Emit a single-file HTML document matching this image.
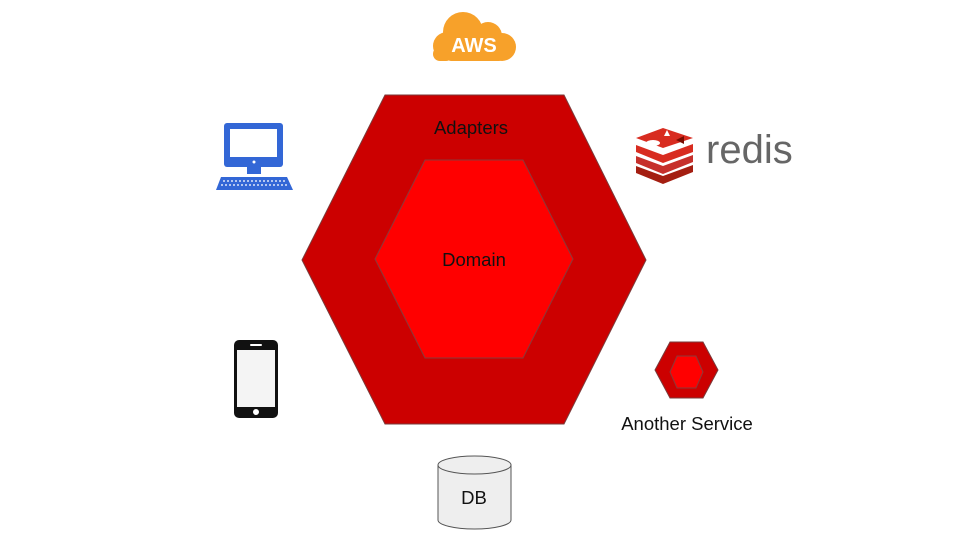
<!DOCTYPE html>
<html><head><meta charset="utf-8"><style>
html,body{margin:0;padding:0;background:#fff;}
svg{display:block;}
text{font-family:"Liberation Sans",Arial,sans-serif;}
</style></head><body>
<svg width="960" height="540" viewBox="0 0 960 540" xmlns="http://www.w3.org/2000/svg">
<rect width="960" height="540" fill="#fff"/>
<!-- AWS cloud -->
<g fill="#f7a12a">
<circle cx="463" cy="32" r="20"/>
<circle cx="488" cy="36" r="14"/>
<circle cx="447" cy="46" r="14"/>
<circle cx="502" cy="47" r="14"/>
<rect x="447" y="36" width="56" height="25" rx="4"/>
<rect x="433" y="47" width="20" height="14" rx="7"/>
</g>
<text x="474" y="52" font-size="20" fill="#fff" text-anchor="middle" font-weight="bold">AWS</text>
<!-- hexagons -->
<polygon points="302,260 385,95 564,95 646,260 564,424 385,424" fill="#cc0000" stroke="#7a3a3a" stroke-width="1"/>
<polygon points="375,259 425,160 523,160 573,259 523,358 425,358" fill="#ff0000" stroke="#8a3a3a" stroke-width="1"/>
<text x="471" y="134" font-size="18.5" fill="#111" text-anchor="middle">Adapters</text>
<text x="474" y="266" font-size="18.5" fill="#111" text-anchor="middle">Domain</text>
<!-- computer -->
<rect x="224" y="123" width="59" height="44" rx="3" fill="#3367d6"/>
<rect x="230" y="129" width="47" height="28" fill="#fff"/>
<circle cx="254" cy="162" r="1.5" fill="#fff"/>
<rect x="247" y="167" width="14" height="7" fill="#3367d6"/>
<polygon points="221,177 287,177 293,190 216,190" fill="#3367d6"/>
<g stroke="#fff" stroke-width="1.2" stroke-dasharray="2 2"><line x1="223" y1="181" x2="286" y2="181"/><line x1="221" y1="185" x2="288" y2="185"/></g>
<!-- phone -->
<rect x="234" y="340" width="44" height="78" rx="5" fill="#111"/>
<rect x="237" y="350" width="38" height="57" fill="#f4f4f4"/>
<rect x="250" y="344" width="12" height="2" rx="1" fill="#fff"/>
<circle cx="256" cy="412" r="3" fill="#fff"/>
<!-- redis -->
<g>
<polygon points="636,166 663,176 693,165 693,172 663,184 636,173" fill="#a41e11"/>
<polygon points="636,156 663,166 693,155 693,162 663,174 636,163" fill="#c6302b"/>
<polygon points="636,145 663,155 693,144 693,152 663,163 636,152" fill="#d82c20"/>
<polygon points="636,138 663,128 693,138 663,148" fill="#d82c20"/>
<ellipse cx="653" cy="143" rx="7" ry="3" fill="#fff"/>
<polygon points="664,136 667,130 670,136" fill="#fff"/>
<polygon points="676,140 684,136 684,144" fill="#7a0c00"/>
</g>
<text x="706" y="163" font-size="40" fill="#666">redis</text>
<!-- another service -->
<polygon points="655,370 670,342 703,342 718,370 703,398 670,398" fill="#cc0000" stroke="#7a3a3a"/>
<polygon points="670,372 677,356 696,356 703,372 696,388 677,388" fill="#ff0000" stroke="#8a3a3a"/>
<text x="687" y="430" font-size="18.5" fill="#111" text-anchor="middle">Another Service</text>
<!-- DB -->
<path d="M438,465 L438,520 A36.5,9 0 0 0 511,520 L511,465" fill="#eee" stroke="#555"/>
<ellipse cx="474.5" cy="465" rx="36.5" ry="9" fill="#eee" stroke="#555"/>
<text x="474" y="504" font-size="18.5" fill="#111" text-anchor="middle">DB</text>
</svg>
</body></html>
